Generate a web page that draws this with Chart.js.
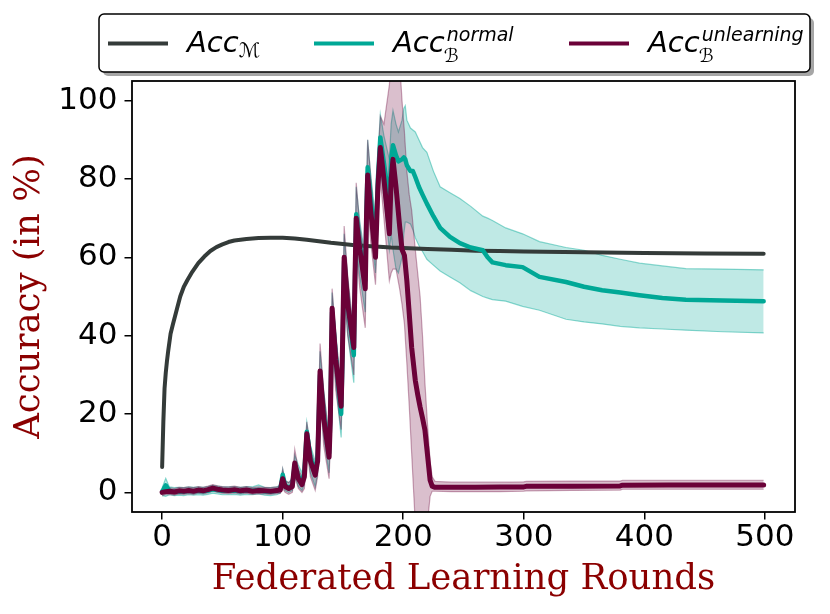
<!DOCTYPE html>
<html><head><meta charset="utf-8">
<script src="https://cdn.jsdelivr.net/npm/chart.js@4.4.0/dist/chart.umd.min.js"></script>
<style>html,body{margin:0;padding:0;background:#fff;}canvas{display:block;}</style>
</head><body>
<canvas id="c" width="830" height="614" style="width:830px;height:614px"></canvas>
<script>
// ---------- data ----------
const xTicks = [0, 100, 200, 300, 400, 500];
const yTicks = [0, 20, 40, 60, 80, 100];

// Acc_M (global model accuracy)
const mRounds = [0,1,2,3,4,5,7,9,12,15,18,21,25,30,35,40,45,50,55,60,70,80,90,100,110,120,130,140,150,160,170,180,190,200,220,240,260,280,300,350,400,450,499];
const mAcc    = [6.5,18,26.5,30.5,33.5,36,40.5,43,46.5,50,52.5,54.2,56.3,58.5,60.2,61.6,62.6,63.3,63.9,64.3,64.7,64.9,65.0,65.0,64.8,64.5,64.1,63.7,63.4,63.1,62.9,62.7,62.5,62.4,62.1,61.9,61.7,61.6,61.5,61.3,61.1,61.0,60.9];

// Acc_B^normal (backdoor accuracy, normal)
const nRounds = [0,3,6,10,14,18,22,26,30,34,38,42,46,50,55,60,65,70,75,80,85,90,95,98,
  100,102,105,108,110,113,116,118,120,123,127,129,131,134,138.5,139.5,141,144,148.5,149.5,
  151,154,159,160,161,164,168.5,169.5,170.5,173,177,179,181,184,188.5,190,191.5,194,196,199,
  200.5,201.7,203,206,208,210,213,216,219.6,225,230.6,238.8,247,256,266,270,274,285,299,313,
  335,350,365,380,396,415,434.5,465,499];
const nMean = [0.2,1.8,0.4,0.2,0.3,0.2,0.4,0.3,0.4,0.3,0.5,0.8,0.6,0.4,0.4,0.5,0.3,0.5,0.4,0.6,0.3,0.2,0.4,0.8,
  4.5,1.8,1.2,1.8,7,4,2.5,5,15.5,9,5,9,30,20,10,19,46,35,20,33,
  59,48,35,54,71,63,54,72,83,75,63,80,90.6,84,74,85,88.6,86,84.5,85,
  85.5,85,83.5,82,82,80.5,78,76,73.7,70.5,67.5,65.2,63.6,62.5,61.8,60,58.7,58,57.5,55,
  53.7,52.5,51.6,51,50.3,49.6,49.2,49,48.8];
const nUpper = [1.2,3.6,1.4,1.2,1.3,1.2,1.4,1.3,1.4,1.3,1.5,1.8,1.6,1.4,1.4,1.5,1.3,1.5,1.4,1.9,1.3,1.2,1.4,1.8,
  6,3,2.5,3.5,9.5,7,5,9,18,12,8,13,36,26,14,23,51,41,25,38,
  66,54,40,59,78,69,60,78,90,81,70,86,96.5,91,85,94,97.5,94,92,95,
  98,98.7,95,93,92.5,92,90,88,86.8,82,78,76.5,75,73,70.5,70,69.4,67.5,66,64,
  62.5,61.8,60.5,59.5,58.5,57.8,57.1,57,56.8];
const nLower = [-0.8,-1.0,-0.6,-0.8,-0.7,-0.8,-0.6,-0.7,-0.6,-0.7,-0.5,-0.2,-0.4,-0.6,-0.6,-0.5,-0.7,-0.5,-0.6,-0.4,-0.7,-0.8,-0.6,-0.2,
  2,0.5,0,0.5,4.5,1.5,0.5,2,12,5,1.5,5,25,14,5,13,40,28,14,27,
  52,40,28,46,63,55,46,65,76,68,56,73,83,75,62,66,62,57,56,60,
  66,69,69,68.5,67,65,63,61.5,59.5,58,56.5,55,53.5,51.5,50,49.6,49.2,48.8,47.5,46.5,
  44.2,43.5,43,42.4,42,41.7,41.4,41,40.7];

// Acc_B^unlearning (backdoor accuracy, with unlearning)
const uRounds = [0,3,6,10,14,18,22,26,30,34,38,42,46,50,55,60,65,70,75,80,85,90,95,98,
  100,102,105,108,110,113,116,118,120,123,127,129,131,134,138.5,139.5,141,144,148.5,149.5,
  151,154,159,160,161,164,168.5,169.5,170.5,173,177,179,181,184,188.5,190,191.5,194,197,199,
  201,203,205,207,210,212,214,216,218,220,222.3,224,226.4,240,260,280,300,302,340,380,382,420,460,499];
const uMean = [0.0,0.2,0.3,0.1,0.4,0.3,0.5,0.3,0.6,0.4,0.7,1.1,0.8,0.6,0.5,0.7,0.4,0.6,0.3,0.5,0.4,0.3,0.5,0.6,
  3.5,1.5,1.0,1.5,7.5,3.5,2.0,4.0,15,8,4.4,8,31,19,9,18,47,34,22,35,
  60,48,37,55,70,62,52,70,81,72,60,78,88,80,66,80,85,78,68,62,
  60.5,54,45.6,37,28.6,25,21.8,19,15.9,10,3.1,1.6,1.3,1.3,1.3,1.35,1.4,1.55,1.6,1.65,1.85,1.9,1.9,1.9];
const uUpper = [0.9,1.1,1.2,1.0,1.3,1.2,1.4,1.2,1.5,1.3,1.6,2.0,1.7,1.5,1.4,1.6,1.3,1.5,1.2,1.4,1.3,1.2,1.4,1.5,
  6,3,2.5,3.5,11,6,4,7,18,11,7,12,38,26,14,22,52,40,27,40,
  68,55,41,60,79,68,58,76,90,81,66,85,96,94,104,110,112,112,110,100,
  92,82,76,72,62,56,50,40,28,18,8,4,2.8,2.6,2.6,2.6,2.7,2.8,2.9,2.9,3.1,3.1,3.1,3.1];
const uLower = [-0.8,-0.6,-0.5,-0.7,-0.4,-0.5,-0.3,-0.5,-0.2,-0.4,-0.1,0.3,0.0,-0.2,-0.3,-0.1,-0.4,-0.2,-0.5,-0.3,-0.4,-0.5,-0.3,-0.2,
  1,0,-0.5,0,4,1,0,1,11,4,0.5,4,25,12,3.5,12,40,26,16,28,
  52,40,30,45,62,52,42,62,74,64,53,70,80,70,54,56,57,57,52,48,
  43,33,22,10,-8,-12,-14,-14,-12,-8,-1,0.3,0.3,0.2,0.2,0.2,0.3,0.4,0.5,0.6,0.8,0.8,0.8,0.8];

const legendMain = ['Acc', 'Acc', 'Acc'];
const legendSub  = ['\u2133', '\u212C', '\u212C'];
const legendSup  = ['', 'normal', 'unlearning'];

// ---------- styles ----------
const cGray = '#343b39';
const cTeal = '#00a896';
const cMaroon = '#6b0138';
const legendColors = [cGray, cTeal, cMaroon];

const pts = (xs, ys) => xs.map((x, i) => ({ x: x, y: ys[i] }));

const lineBase = { pointRadius: 0, tension: 0, borderJoinStyle: 'round', borderCapStyle: 'round', fill: false };

const datasets = [
  Object.assign({ data: pts(uRounds, uMean), borderColor: cMaroon, borderWidth: 5, order: 1 }, lineBase),
  Object.assign({ data: pts(nRounds, nMean), borderColor: cTeal, borderWidth: 4.5, order: 2 }, lineBase),
  Object.assign({ data: pts(mRounds, mAcc), borderColor: cGray, borderWidth: 4, order: 3 }, lineBase),
  { data: pts(uRounds, uUpper), borderColor: 'rgba(107,1,56,0.35)', borderWidth: 1.2, pointRadius: 0, tension: 0,
    fill: '+1', backgroundColor: 'rgba(107,1,56,0.25)', order: 4 },
  { data: pts(uRounds, uLower), borderColor: 'rgba(107,1,56,0.35)', borderWidth: 1.2, pointRadius: 0, tension: 0,
    fill: false, order: 4 },
  { data: pts(nRounds, nUpper), borderColor: 'rgba(0,168,150,0.45)', borderWidth: 1.2, pointRadius: 0, tension: 0,
    fill: '+1', backgroundColor: 'rgba(0,168,150,0.25)', order: 5 },
  { data: pts(nRounds, nLower), borderColor: 'rgba(0,168,150,0.45)', borderWidth: 1.2, pointRadius: 0, tension: 0,
    fill: false, order: 5 }
];

function rrect(ctx, x, y, w, h, r) {
  ctx.beginPath();
  ctx.moveTo(x + r, y);
  ctx.lineTo(x + w - r, y); ctx.arcTo(x + w, y, x + w, y + r, r);
  ctx.lineTo(x + w, y + h - r); ctx.arcTo(x + w, y + h, x + w - r, y + h, r);
  ctx.lineTo(x + r, y + h); ctx.arcTo(x, y + h, x, y + h - r, r);
  ctx.lineTo(x, y + r); ctx.arcTo(x, y, x + r, y, r);
  ctx.closePath();
}

const framePlugin = {
  id: 'frame',
  afterDatasetsDraw(chart) {
    const a = chart.chartArea, ctx = chart.ctx;
    ctx.save();
    ctx.strokeStyle = '#000';
    ctx.lineWidth = 1.8;
    ctx.strokeRect(a.left, a.top, a.right - a.left, a.bottom - a.top);
    ctx.restore();
  }
};

const legendPlugin = {
  id: 'mathLegend',
  afterDraw(chart) {
    const ctx = chart.ctx;
    const bx = 99, by = 14, bw = 711, bh = 58;
    ctx.save();
    rrect(ctx, bx + 4, by + 4, bw, bh, 5);
    ctx.fillStyle = 'rgba(0,0,0,0.35)';
    ctx.fill();
    rrect(ctx, bx, by, bw, bh, 5);
    ctx.fillStyle = '#fff';
    ctx.fill();
    ctx.strokeStyle = '#000';
    ctx.lineWidth = 1.5;
    ctx.stroke();
    const lineX = [108, 314, 569];
    const textX = [187, 393, 648];
    for (let i = 0; i < 3; i++) {
      ctx.beginPath();
      ctx.strokeStyle = legendColors[i];
      ctx.lineWidth = 4;
      ctx.moveTo(lineX[i], 43.5);
      ctx.lineTo(lineX[i] + 60, 43.5);
      ctx.stroke();
      ctx.fillStyle = '#000';
      ctx.textBaseline = 'alphabetic';
      ctx.textAlign = 'left';
      ctx.font = 'italic 29px "DejaVu Sans"';
      ctx.fillText(legendMain[i], textX[i], 52);
      const w = ctx.measureText(legendMain[i]).width;
      ctx.font = 'italic 19px "DejaVu Sans"';
      if (legendSup[i]) {
        ctx.fillText(legendSub[i], textX[i] + w - 1, 62);
        ctx.fillText(legendSup[i], textX[i] + w + 2, 41);
      } else {
        ctx.font = 'italic 20px "DejaVu Sans"';
        ctx.fillText(legendSub[i], textX[i] + w, 57);
      }
    }
    ctx.restore();
  }
};

new Chart(document.getElementById('c'), {
  type: 'line',
  data: { datasets: datasets },
  options: {
    responsive: false,
    animation: false,
    devicePixelRatio: 1,
    layout: { padding: { left: 0, right: 35, top: 81, bottom: 0 } },
    plugins: { legend: { display: false }, tooltip: { enabled: false } },
    scales: {
      x: {
        type: 'linear', min: -25, max: 525,
        afterBuildTicks: (s) => { s.ticks = xTicks.map(v => ({ value: v })); },
        afterFit: (s) => { s.height = 102; },
        grid: { drawOnChartArea: false, drawTicks: true, tickLength: 7.5, color: '#000', lineWidth: 1.5 },
        border: { display: false },
        ticks: { font: { family: 'DejaVu Sans', size: 31 }, color: '#000', padding: 0, maxRotation: 0, autoSkip: false },
        title: { display: true, text: 'Federated Learning Rounds', color: '#8b0000',
          font: { family: 'DejaVu Serif', size: 35.5 }, padding: { top: 0, bottom: 13 } }
      },
      y: {
        type: 'linear', min: -5, max: 105,
        afterBuildTicks: (s) => { s.ticks = yTicks.map(v => ({ value: v })); },
        afterFit: (s) => { s.width = 132; },
        grid: { drawOnChartArea: false, drawTicks: true, tickLength: 7.5, color: '#000', lineWidth: 1.5 },
        border: { display: false },
        ticks: { font: { family: 'DejaVu Sans', size: 31 }, color: '#000', padding: 7 },
        title: { display: true, text: 'Accuracy (in %)', color: '#8b0000',
          font: { family: 'DejaVu Serif', size: 35.5 }, padding: { top: 8, bottom: 0 } }
      }
    }
  },
  plugins: [framePlugin, legendPlugin]
});
</script>
</body></html>
